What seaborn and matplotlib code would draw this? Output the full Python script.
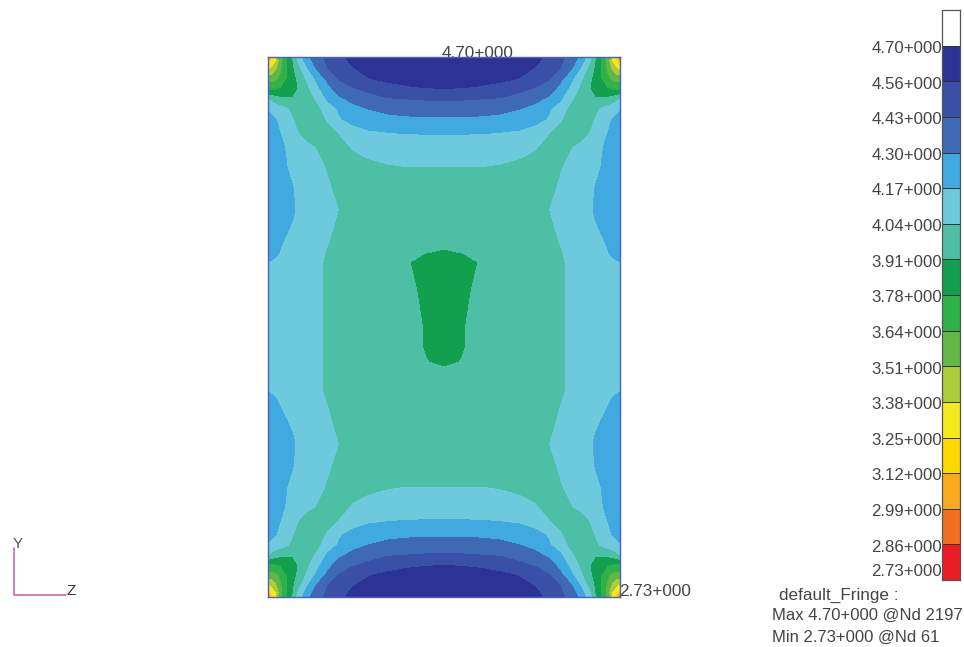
import numpy as np
import matplotlib
matplotlib.use("Agg")
import matplotlib.pyplot as plt
from matplotlib.colors import ListedColormap, BoundaryNorm
import seaborn as sns

# Fringe levels and colours (bottom to top)
levels = [2.73, 2.86, 2.99, 3.12, 3.25, 3.38, 3.51, 3.64, 3.78, 3.91, 4.04, 4.17, 4.30, 4.43, 4.56, 4.70]
colors = ["#EC1C24", "#F0701F", "#F9A91B", "#FFD800", "#F2EA1C", "#AECB3A", "#62B846", "#30B24A",
          "#12A04E", "#4DBFA4", "#6DCADC", "#3FA9E0", "#4069B5", "#3A4FA6", "#2B3494"]
tick_labels = ["4.70+000", "4.56+000", "4.43+000", "4.30+000", "4.17+000", "4.04+000", "3.91+000", "3.78+000",
               "3.64+000", "3.51+000", "3.38+000", "3.25+000", "3.12+000", "2.99+000", "2.86+000", "2.73+000"]

# Sample positions (left half, distance from the left edge / from the top)
col_pos = [0, 4, 8, 13, 19, 25, 31, 40, 50, 60, 72, 85, 100, 120, 140, 158, 176]
edge_rows = [0, 5, 12, 22, 32, 42, 52, 62, 75, 90, 110, 130, 153, 180]
centre_rows = [195, 205, 235, 270, 290, 305, 315, 335]
plate_w = 352
plate_h = 540

# Values read from the fringe, rows near the top edge, left half (bottom edge is about the same)
edge_values = [
    [2.73, 3.22, 3.38, 3.62, 3.78, 3.95, 4.10, 4.27, 4.39, 4.47, 4.53, 4.60, 4.65, 4.68, 4.69, 4.70, 4.70],
    [3.05, 3.27, 3.38, 3.58, 3.76, 3.89, 4.06, 4.24, 4.37, 4.45, 4.52, 4.58, 4.63, 4.67, 4.68, 4.69, 4.69],
    [3.36, 3.40, 3.48, 3.62, 3.76, 3.89, 4.00, 4.16, 4.32, 4.43, 4.50, 4.55, 4.60, 4.65, 4.67, 4.68, 4.68],
    [3.58, 3.58, 3.60, 3.67, 3.78, 3.86, 3.94, 4.07, 4.21, 4.33, 4.44, 4.50, 4.55, 4.59, 4.62, 4.63, 4.63],
    [3.74, 3.74, 3.76, 3.79, 3.82, 3.87, 3.92, 4.02, 4.14, 4.26, 4.36, 4.415, 4.455, 4.50, 4.53, 4.55, 4.555],
    [4.04, 4.00, 3.96, 3.93, 3.92, 3.92, 3.93, 3.98, 4.07, 4.19, 4.28, 4.33, 4.38, 4.42, 4.43, 4.44, 4.445],
    [4.16, 4.13, 4.11, 4.08, 4.05, 4.00, 3.98, 3.98, 4.01, 4.10, 4.19, 4.26, 4.30, 4.33, 4.345, 4.35, 4.355],
    [4.21, 4.19, 4.17, 4.12, 4.08, 4.04, 4.00, 3.97, 3.98, 4.06, 4.16, 4.21, 4.25, 4.27, 4.28, 4.285, 4.285],
    [4.24, 4.22, 4.20, 4.16, 4.11, 4.07, 4.03, 3.98, 3.96, 3.99, 4.05, 4.12, 4.155, 4.172, 4.176, 4.178, 4.18],
    [4.26, 4.24, 4.22, 4.20, 4.15, 4.12, 4.09, 4.06, 4.03, 3.99, 4.00, 4.05, 4.08, 4.10, 4.12, 4.125, 4.13],
    [4.27, 4.25, 4.23, 4.20, 4.17, 4.14, 4.12, 4.09, 4.06, 4.03, 4.00, 3.99, 4.01, 4.03, 4.04, 4.04, 4.04],
    [4.27, 4.25, 4.23, 4.21, 4.19, 4.17, 4.14, 4.11, 4.08, 4.05, 4.01, 3.98, 3.98, 3.98, 3.98, 3.98, 3.98],
    [4.25, 4.24, 4.23, 4.21, 4.20, 4.18, 4.15, 4.12, 4.09, 4.07, 4.035, 4.00, 3.97, 3.96, 3.95, 3.95, 3.95],
    [4.22, 4.21, 4.20, 4.18, 4.165, 4.15, 4.13, 4.10, 4.07, 4.05, 4.00, 3.98, 3.96, 3.95, 3.94, 3.93, 3.93],
]
# Middle of the plate, the blob is not symmetric so these rows are one by one
centre_values = [
    [4.19, 4.185, 4.18, 4.165, 4.15, 4.14, 4.12, 4.09, 4.065, 4.03, 3.99, 3.975, 3.955, 3.945, 3.935, 3.912, 3.905],
    [4.17, 4.165, 4.16, 4.15, 4.14, 4.13, 4.11, 4.09, 4.06, 4.02, 3.98, 3.97, 3.95, 3.94, 3.915, 3.87, 3.86],
    [4.14, 4.14, 4.13, 4.13, 4.12, 4.11, 4.10, 4.08, 4.05, 4.03, 3.99, 3.97, 3.95, 3.93, 3.925, 3.895, 3.86],
    [4.13, 4.13, 4.13, 4.12, 4.12, 4.11, 4.10, 4.08, 4.05, 4.03, 3.99, 3.97, 3.95, 3.94, 3.93, 3.905, 3.86],
    [4.13, 4.13, 4.13, 4.12, 4.12, 4.11, 4.10, 4.08, 4.05, 4.03, 3.99, 3.97, 3.95, 3.94, 3.93, 3.905, 3.86],
    [4.14, 4.14, 4.13, 4.13, 4.12, 4.11, 4.10, 4.08, 4.05, 4.03, 3.99, 3.97, 3.95, 3.94, 3.935, 3.912, 3.90],
    [4.15, 4.15, 4.14, 4.14, 4.13, 4.12, 4.10, 4.08, 4.05, 4.03, 3.99, 3.97, 3.955, 3.945, 3.94, 3.925, 3.92],
    [4.17, 4.165, 4.16, 4.15, 4.14, 4.13, 4.11, 4.09, 4.06, 4.02, 3.98, 3.97, 3.96, 3.95, 3.95, 3.95, 3.95],
]

# Build the whole plate from the rows above (mirror left/right and top/bottom)
field = np.array(edge_values + centre_values + edge_values[::-1])
field = np.hstack([field, field[:, -2::-1]])
x = np.array(col_pos + [plate_w - c for c in col_pos[-2::-1]])
y = np.array(edge_rows + centre_rows + [plate_h - r for r in edge_rows[::-1]])

sns.set_theme(style="white")
plt.rcParams["font.family"] = ["Liberation Sans", "DejaVu Sans"]

W, H = 964, 647
fig = plt.figure(figsize=(W / 100, H / 100), dpi=100, facecolor="white")

# page axes in pixels, behind the plate (the top label is partly hidden by it)
page = fig.add_axes([0, 0, 1, 1], zorder=-1)
page.set_xlim(0, W)
page.set_ylim(H, 0)
page.axis("off")

# Plate
ax = fig.add_axes([268 / W, 1 - 597 / H, plate_w / W, plate_h / H])
ax.contourf(x, y, field, levels=levels, colors=colors)
ax.set_xlim(0, plate_w)
ax.set_ylim(plate_h, 0)
ax.set_xticks([])
ax.set_yticks([])
for s in ax.spines.values():
    s.set_visible(True)
    s.set_color("#4A5FC0")
    s.set_linewidth(1.0)

# Fringe bar
bar_colors = ["#FFFFFF"] + colors[::-1]
bar = fig.add_axes([942 / W, 1 - 580 / H, 18 / W, 570 / H])
sns.heatmap(np.arange(16).reshape(-1, 1), ax=bar, cmap=ListedColormap(bar_colors),
            norm=BoundaryNorm(np.arange(17) - 0.5, 16), cbar=False,
            linewidths=0.7, linecolor="#333333", xticklabels=False)
bar.set_yticks([i + 0.08 for i in range(1, 16)] + [15.75])
bar.set_yticklabels(tick_labels, rotation=0, fontsize=12.1, color="#444444")
bar.tick_params(axis="y", length=0, pad=0)
for s in bar.spines.values():
    s.set_visible(True)
    s.set_color("#555555")
    s.set_linewidth(0.9)

# Labels on the plate and the summary text
txt = dict(fontsize=12.3, color="#444444", va="center")
page.text(478, 53, "4.70+000", ha="center", **txt)
page.text(619, 591, "2.73+000", ha="left", **txt)
page.text(779, 595, "default_Fringe :", ha="left", **txt)
page.text(772, 615, "Max 4.70+000 @Nd 2197", ha="left", fontsize=12, color="#444444", va="center")
page.text(772, 637, "Min 2.73+000 @Nd 61", ha="left", fontsize=12, color="#444444", va="center")

# Axis triad
page.plot([14, 14, 66], [548, 595, 595], color="#C767B8", lw=1.2)
page.text(18, 544, "Y", ha="center", fontsize=11, color="#555555", va="center")
page.text(71, 591, "Z", ha="center", fontsize=11, color="#333333", va="center")

fig.savefig("out.png", dpi=100)
